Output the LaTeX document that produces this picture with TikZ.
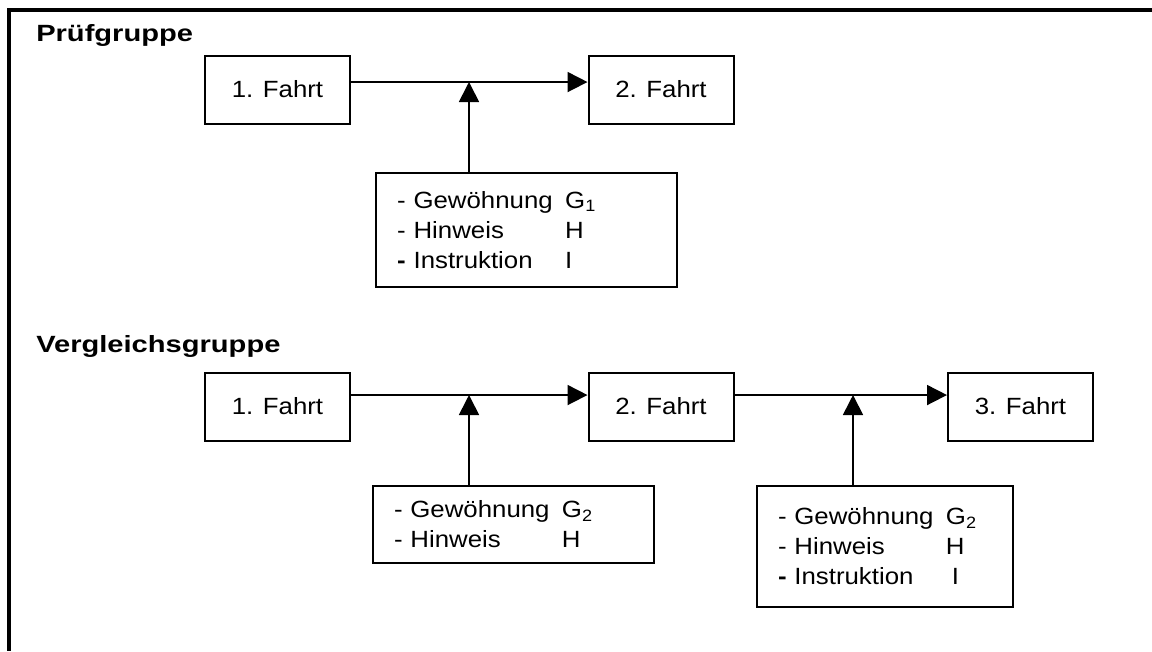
\documentclass[tikz,border=0pt]{standalone}
\usepackage{fontspec}
\setmainfont{Liberation Sans}[FakeStretch=1.1]
\newfontfamily\headfont{Liberation Sans}[FakeStretch=1.24]
\usetikzlibrary{arrows.meta}

\newcommand{\stufe}[2]{\makebox[126pt][l]{#1}#2}

\begin{document}
\begin{tikzpicture}[x=0.75pt, y=-0.75pt,
    fahrt/.style={rectangle, draw=black, line width=1.5pt, minimum width=108.75pt, minimum height=51pt, inner sep=0pt, font=\fontsize{17.6}{22.5}\selectfont},
    gbox/.style={rectangle, draw=black, line width=1.5pt, align=left, inner xsep=15.75pt, inner ysep=0pt, font=\fontsize{17.6}{22.5}\selectfont},
    gruppe/.style={anchor=base west, inner sep=0pt, font=\headfont\bfseries\fontsize{17.6}{22.5}\selectfont},
    pfeil/.style={-{Triangle[length=15pt, width=15pt]}, line width=1.3pt}]
    \useasboundingbox (0,0) rectangle (1152,651);
    \draw[line width=2.3pt] (1152,10) -- (9,10) -- (9,651);

    \node[gruppe] (pruef) at (36,41) {Prüfgruppe};
    \node[fahrt] (p1) at (277.5,89.5) {1. Fahrt};
    \node[fahrt] (p2) at (661,89.5) {2. Fahrt};
    \node[gbox, text width=194pt, minimum height=85.5pt] (pg) at (526.5,230)
        {\stufe{- Gewöhnung}{G\textsubscript{1}}\\ \stufe{- Hinweis}{H}\\ \stufe{{\bfseries -} Instruktion}{I}};
    \coordinate (j1) at (469,82);

    \node[gruppe] (vergl) at (36,352) {Vergleichsgruppe};
    \node[fahrt] (v1) at (277.5,406.5) {1. Fahrt};
    \node[fahrt] (v2) at (661,406.5) {2. Fahrt};
    \node[fahrt] (v3) at (1020.5,406.5) {3. Fahrt};
    \node[gbox, text width=179.25pt, minimum height=57.75pt] (vg1) at (513.5,524.5)
        {\stufe{- Gewöhnung}{G\textsubscript{2}}\\ \stufe{- Hinweis}{H}};
    \node[gbox, text width=160.5pt, minimum height=90.75pt] (vg2) at (885,546.5)
        {\stufe{- Gewöhnung}{G\textsubscript{2}}\\ \stufe{- Hinweis}{H}\\ \stufe{{\bfseries -} Instruktion}{\hspace{4.5pt}I}};
    \coordinate (j2) at (469,395);
    \coordinate (j3) at (853,395);

    \draw[pfeil] ([yshift=5.6pt]p1.east) -- ([yshift=5.6pt]p2.west);
    \draw[pfeil] (pg.north -| j1) -- (j1);
    \draw[pfeil] ([yshift=8.6pt]v1.east) -- ([yshift=8.6pt]v2.west);
    \draw[pfeil] ([yshift=8.6pt]v2.east) -- ([yshift=8.6pt]v3.west);
    \draw[pfeil] (vg1.north -| j2) -- (j2);
    \draw[pfeil] (vg2.north -| j3) -- (j3);
\end{tikzpicture}
\end{document}
